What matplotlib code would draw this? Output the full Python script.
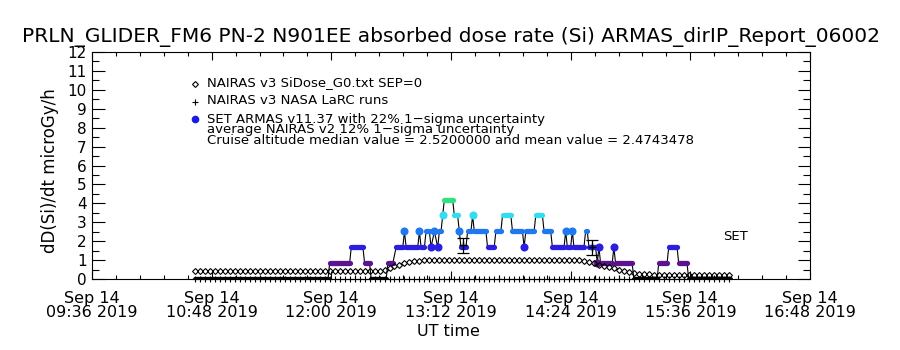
import matplotlib
matplotlib.use("Agg")
import matplotlib.pyplot as plt
import matplotlib.dates as mdates
import pandas as pd
import numpy as np

DAY = "2019-09-14 "

# NAIRAS v3 SiDose_G0 (diamonds), every 3 min from 10:38
nairas_start = "10:38"
nairas_step_min = 3
nairas_vals = ([0.4] * 37 +
               [0.42, 0.5, 0.6, 0.68, 0.76, 0.83, 0.88, 0.93, 0.96] +
               [1.0] * 32 +
               [0.95, 0.88, 0.82, 0.76, 0.7, 0.63, 0.56, 0.5, 0.44, 0.38,
                0.32, 0.29, 0.26, 0.24] +
               [0.2] * 16)

# NAIRAS v3 LaRC runs (plus signs)
larc_vals = [0.0] * len(nairas_vals)
larc_err_times = ["13:19", "14:37"]
larc_err_vals = [1.78, 1.68]
larc_err = [0.4, 0.4]

# ARMAS runs: start, end, dose rate
armas_start = ["10:38", "11:59", "12:12", "12:20", "12:24", "12:34", "12:39", "12:44",
               "12:45", "12:53", "12:54", "12:57", "13:00", "13:02", "13:04", "13:05",
               "13:07", "13:08", "13:14", "13:17", "13:18", "13:22", "13:25", "13:26",
               "13:34", "13:39", "13:43", "13:49", "13:56", "13:57", "14:03", "14:08",
               "14:13", "14:21", "14:22", "14:25", "14:26", "14:33", "14:35", "14:40",
               "14:41", "14:42", "14:50", "14:51", "15:02", "15:17", "15:23", "15:29",
               "15:35"]
armas_end = ["11:58", "12:11", "12:19", "12:23", "12:33", "12:37", "12:43", "12:44",
             "12:52", "12:53", "12:56", "12:59", "13:00", "13:02", "13:04", "13:06",
             "13:07", "13:13", "13:16", "13:17", "13:21", "13:24", "13:25", "13:33",
             "13:38", "13:42", "13:48", "13:55", "13:56", "14:02", "14:07", "14:12",
             "14:20", "14:21", "14:24", "14:25", "14:32", "14:34", "14:39", "14:40",
             "14:41", "14:49", "14:50", "15:01", "15:16", "15:22", "15:28", "15:34",
             "16:00"]
armas_vals = [0, 0.84, 1.68, 0.84, 0, 0.84, 1.68, 2.52,
              1.68, 2.52, 1.68, 2.52, 1.68, 2.52, 1.68, 2.52,
              3.36, 4.2, 3.36, 2.52, 1.68, 2.52, 3.36, 2.52,
              1.68, 2.52, 3.36, 2.52, 1.68, 2.52, 3.36, 2.52,
              1.68, 2.52, 1.68, 2.52, 1.68, 2.52, 1.68, 0.84,
              1.68, 0.84, 1.68, 0.84, 0, 0.84, 1.68, 0.84,
              0]

level_colors = {0: "black", 0.84: "#5b1390", 1.68: "#2a1ee2", 2.52: "#1e78f0",
                3.36: "#30def0", 4.2: "#2ee27c"}

def t(s):
    return pd.Timestamp(DAY + s)

fig = plt.figure(figsize=(9, 3.5), dpi=100)
ax = fig.add_axes([92/900, 1 - 279/350, 718/900, 227/350])

# NAIRAS diamonds and LaRC plus signs
nt = pd.date_range(t(nairas_start), periods=len(nairas_vals), freq=f"{nairas_step_min}min")
ax.plot(nt, larc_vals, ls="none", marker="+", ms=5, mew=0.8, color="black", clip_on=False)

# ARMAS connecting line then coloured runs
path_x, path_y = [], []
for s, e, v in zip(armas_start, armas_end, armas_vals):
    path_x += [t(s), t(e)]
    path_y += [v, v]
ax.plot(path_x, path_y, color="black", lw=0.8)
for s, e, v in zip(armas_start, armas_end, armas_vals):
    c = level_colors[v]
    if s == e:
        ax.plot([t(s)], [v], ls="none", marker="o", ms=4.8, color=c)
    else:
        ax.plot([t(s), t(e)], [v, v], color=c, lw=3.8, solid_capstyle="round")

ax.plot(nt, nairas_vals, ls="none", marker="D", ms=3.0, mfc="none", mew=0.8, color="black")

ax.errorbar([t(s) for s in larc_err_times], larc_err_vals, yerr=larc_err, fmt="+",
            color="black", ms=6, capsize=4, elinewidth=0.9, capthick=0.9)

ax.set_xlim(t("09:36"), t("16:48"))
ax.set_ylim(0, 12)
ax.set_yticks(range(0, 13))
ax.set_yticks(np.arange(0.5, 12, 1), minor=True)
ax.set_xticks(pd.date_range(t("09:36"), t("16:48"), freq="72min"))
ax.set_xticks(pd.date_range(t("09:36"), t("16:48"), freq="864s"), minor=True)
ax.xaxis.set_major_formatter(mdates.DateFormatter("%b %d\n%H:%M %Y"))
ax.tick_params(which="both", direction="in", top=True, right=True, width=0.8, colors="black")
ax.tick_params(axis="y", which="major", length=9, labelsize=11, pad=4)
ax.tick_params(axis="y", which="minor", length=5)
ax.tick_params(axis="x", which="major", length=6, labelsize=11.5, pad=9)
ax.tick_params(axis="x", which="minor", length=3)
for lbl in ax.get_xticklabels():
    lbl.set_linespacing(0.85)
for sp in ax.spines.values():
    sp.set_linewidth(0.8)

fig.text(451/900, 1 - 37/350,
         "PRLN_GLIDER_FM6 PN-2 N901EE absorbed dose rate (Si) ARMAS_dirIP_Report_06002",
         ha="center", va="center", fontsize=14.5)
fig.text(448/900, 1 - 332/350, "UT time", ha="center", va="center", fontsize=11.5)
fig.text(50/900, 1 - 171/350, "dD(Si)/dt microGy/h", rotation=90,
         ha="center", va="center", fontsize=12)

# legend block
leg_rows = [
    (83, "D", "NAIRAS v3 SiDose_G0.txt SEP=0"),
    (101, "+", "NAIRAS v3 NASA LaRC runs"),
    (119, "o", "SET ARMAS v11.37 with 22% 1\u2212sigma uncertainty"),
]
for y, m, txt in leg_rows:
    if m == "D":
        fig.add_artist(plt.Line2D([195/900], [1 - (y + 1)/350], marker="D", ms=3.0,
                                  mfc="none", mew=0.8, color="black", ls="none"))
    elif m == "+":
        fig.add_artist(plt.Line2D([195/900], [1 - (y + 1)/350], marker="+", ms=5,
                                  mew=0.8, color="black", ls="none"))
    else:
        fig.add_artist(plt.Line2D([195/900], [1 - y/350], marker="o", ms=4.5,
                                  color="#1a1ae8", ls="none"))
    fig.text(207/900, 1 - y/350, txt, ha="left", va="center", fontsize=9.5)
fig.text(207/900, 1 - 130/350, "average NAIRAS v2 12% 1\u2212sigma uncertainty",
         ha="left", va="center", fontsize=9.5)
fig.text(207/900, 1 - 141/350,
         "Cruise altitude median value = 2.5200000 and mean value = 2.4743478",
         ha="left", va="center", fontsize=9.5)
fig.text(736/900, 1 - 237/350, "SET", ha="center", va="center", fontsize=9.5)

fig.savefig("out.png", dpi=100)
